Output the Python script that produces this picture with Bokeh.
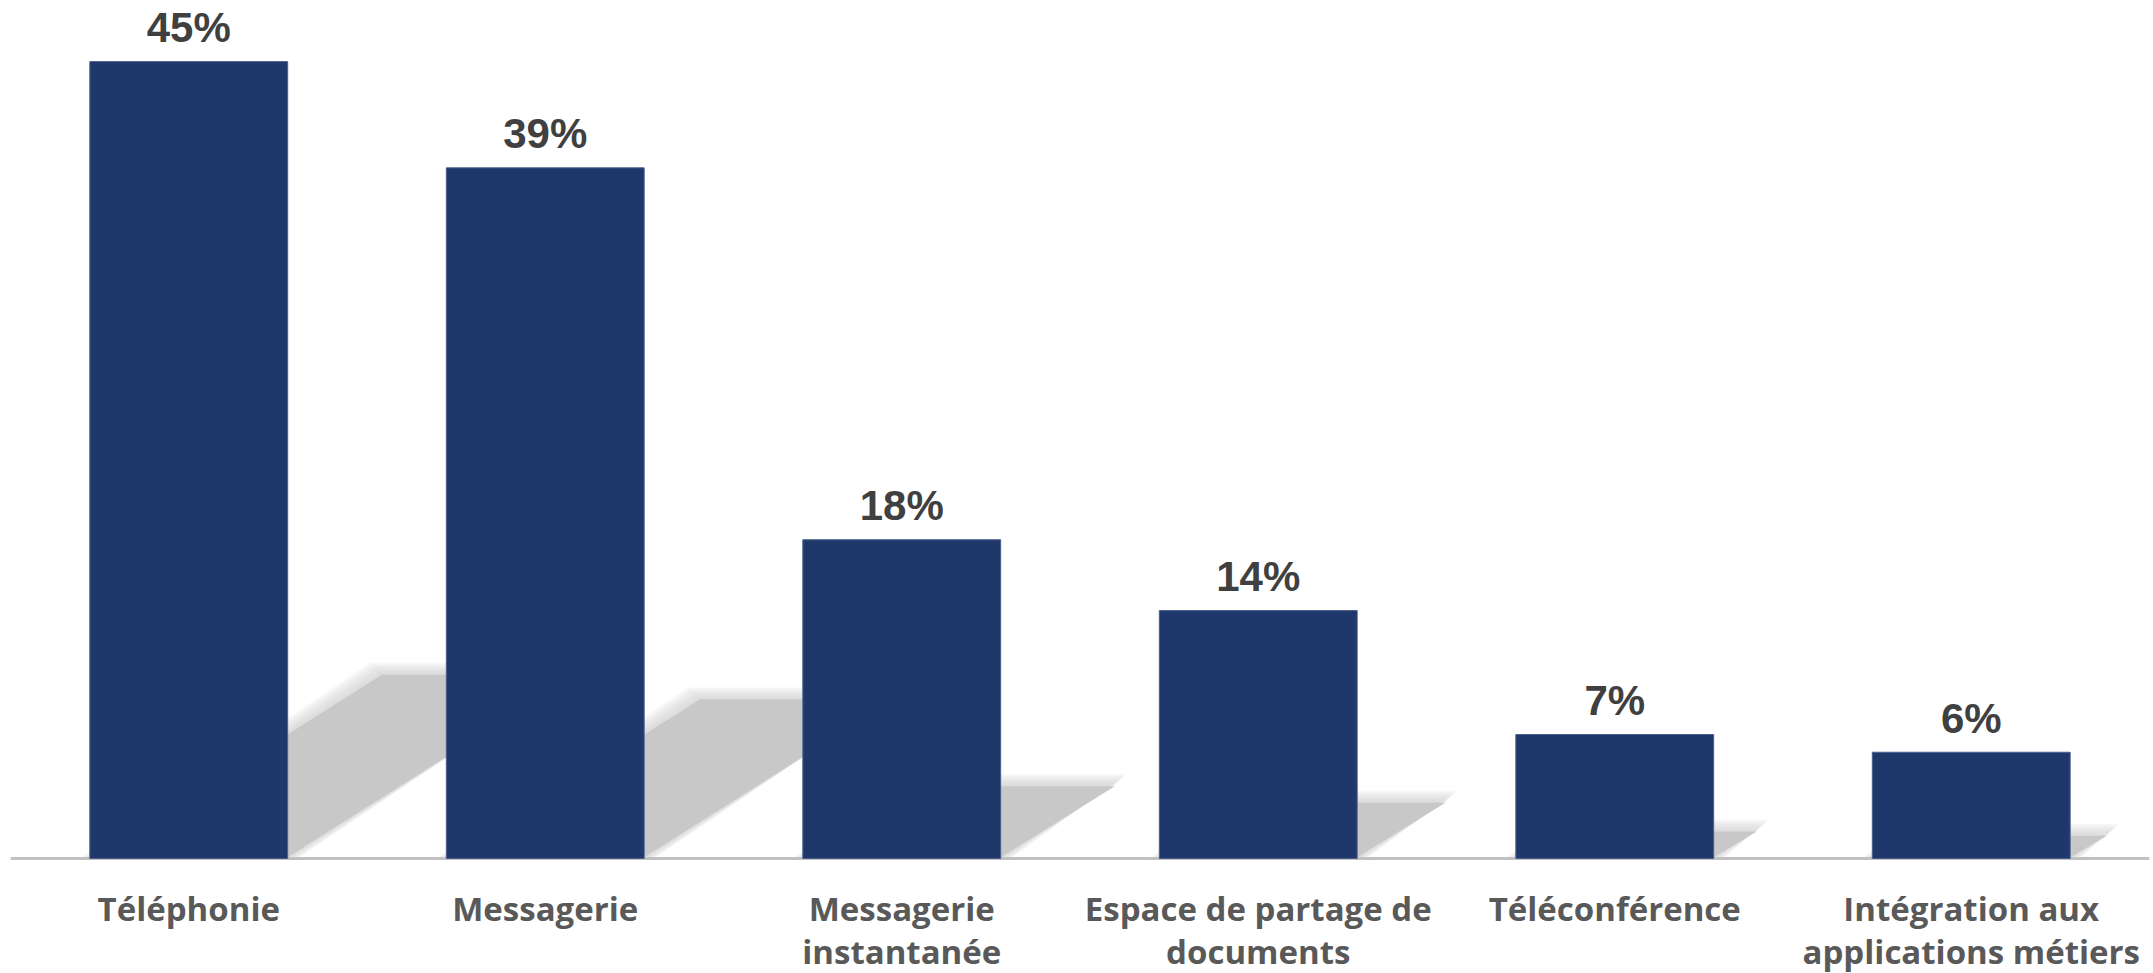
from bokeh.plotting import figure
from bokeh.models import Range1d, ColumnDataSource, Span
from bokeh.core.properties import value
from bokeh.embed import file_html
from bokeh.resources import INLINE

# ---- data ----
categories = [
    "Téléphonie",
    "Messagerie",
    "Messagerie\ninstantanée",
    "Espace de partage de\ndocuments",
    "Téléconférence",
    "Intégration aux\napplications métiers",
]
values = [45, 39, 18, 14, 7, 6]
value_labels = ["45%", "39%", "18%", "14%", "7%", "6%"]

# ---- layout constants ----
W, H = 2153, 973
FRAME_LEFT, FRAME_RIGHT = 10, 4
BASELINE_PX = 858             # pixel row of the zero line
Y_MAX = 48.45
BAR_W = 0.555
BAR_COLOR = "#1f386c"
LINE1_OFFSET = 27             # px below zero line (top of first label line)
LINE_STEP = 43                # px between label lines

frame_w = W - FRAME_LEFT - FRAME_RIGHT
px_x = frame_w / 6.0                  # pixels per x data unit
px_y = BASELINE_PX / Y_MAX            # pixels per y data unit
Y_MIN = -(H - BASELINE_PX) / px_y

SHADOW_RATIO = 0.233          # shadow height relative to bar height
SHADOW_SLOPE = 0.64           # dy/dx of the shadow skew in pixels

p = figure(
    width=W, height=H,
    x_range=Range1d(-0.5, 5.5), y_range=Range1d(Y_MIN, Y_MAX),
    output_backend="svg", toolbar_location=None,
    x_axis_location=None, y_axis_location=None,
    min_border=0, min_border_left=FRAME_LEFT, min_border_right=FRAME_RIGHT,
)
p.outline_line_color = None
p.grid.visible = False
p.background_fill_color = "white"
p.border_fill_color = "white"

xs_idx = list(range(len(categories)))

# ---- shadows (skewed parallelograms, soft edges via many faint layers) ----
layers = [(e, 0.15) for e in (10, 8, 6, 4, 2, 0)] + [(-2, 1.0)]
for e, a in layers:
    sx, sy = [], []
    for i, v in zip(xs_idx, values):
        hs = SHADOW_RATIO * v
        d = (hs * px_y / SHADOW_SLOPE) / px_x
        ex = e / px_x
        ey = e / px_y
        x0 = i - BAR_W / 2
        x1 = i + BAR_W / 2
        sx.append([x0 - ex, x1 + ex, x1 + d + ex, x0 + d - ex])
        sy.append([0, 0, hs + ey, hs + ey])
    p.patches(sx, sy, fill_color="#c8c8c8", fill_alpha=a, line_color=None)

# ---- bars ----
src = ColumnDataSource(dict(x=xs_idx, top=values, lab=value_labels))
p.vbar(x="x", top="top", bottom=0, width=BAR_W, source=src,
       fill_color=BAR_COLOR, line_color="#4a5f8c", line_width=1)

# ---- baseline ----
p.add_layout(Span(location=0, dimension="width", line_color="#c0c0c0",
                  line_width=3, level="underlay"))

# ---- value labels ----
p.text(x="x", y="top", text="lab", source=src,
       text_font=value("Liberation Sans"), text_font_style="bold",
       text_font_size="42px", text_color="#404040",
       text_align="center", text_baseline="alphabetic", y_offset=-34)

# ---- category labels (one text row per line) ----
split = [c.split("\n") for c in categories]
max_lines = max(len(s) for s in split)
for k in range(max_lines):
    lx = [i for i, s in zip(xs_idx, split) if len(s) > k]
    lt = [s[k] for s in split if len(s) > k]
    lsrc = ColumnDataSource(dict(x=lx, y=[0] * len(lx), name=lt))
    p.text(x="x", y="y", text="name", source=lsrc,
           text_font=value("Open Sans"), text_font_style="bold",
           text_font_size="33px", text_color="#595959",
           text_align="center", text_baseline="top",
           text_line_height=1.3, y_offset=LINE1_OFFSET + k * LINE_STEP)

open("out.html", "w").write(file_html(p, INLINE))
